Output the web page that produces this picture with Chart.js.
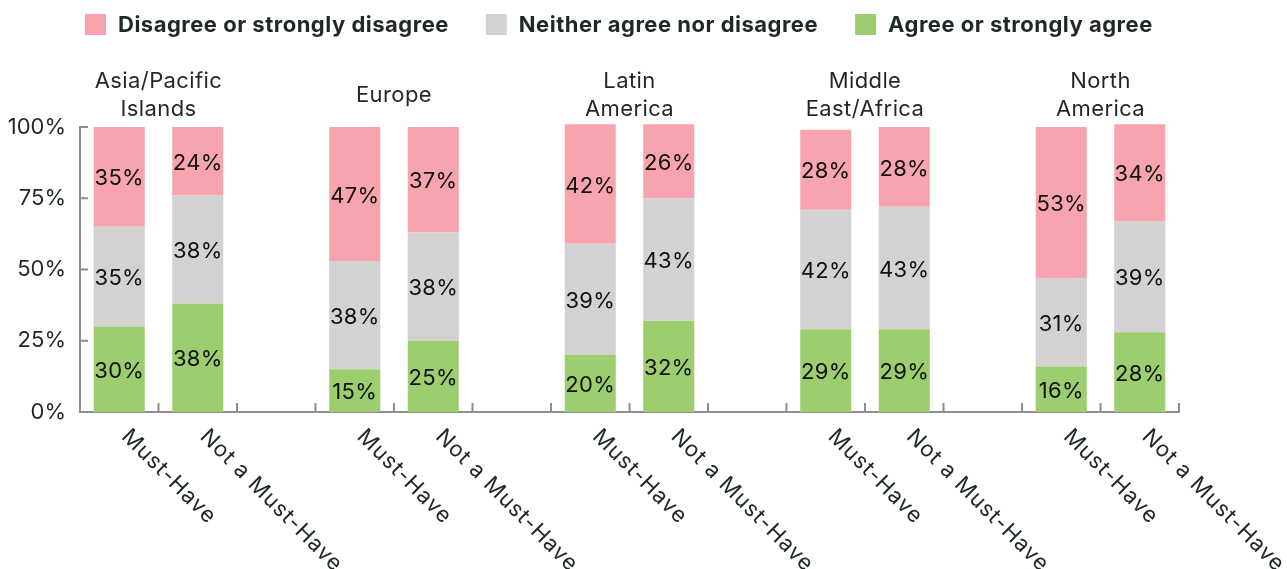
<!DOCTYPE html>
<html lang="en">
<head>
    <meta charset="UTF-8">
    <title>Must-Have by Region</title>
    <script src="https://cdn.jsdelivr.net/npm/chart.js"></script>
    <style>
        body { margin: 0; background: #fff; }
        #wrap { width: 1287px; height: 569px; }
    </style>
</head>
<body>
    <div id="wrap"><canvas id="myChart" width="1287" height="569"></canvas></div>

    <script>
        // Regions, two bars each, with an empty slot between groups
        const regions = [['Asia/Pacific', 'Islands'], ['Europe'], ['Latin', 'America'], ['Middle', 'East/Africa'], ['North', 'America']];
        const categories = ['Must-Have', 'Not a Must-Have', '', 'Must-Have', 'Not a Must-Have', '', 'Must-Have', 'Not a Must-Have', '',
                            'Must-Have', 'Not a Must-Have', '', 'Must-Have', 'Not a Must-Have'];

        const agree    = [30, 38, null, 15, 25, null, 20, 32, null, 29, 29, null, 16, 28];
        const neither  = [35, 38, null, 38, 38, null, 39, 43, null, 42, 43, null, 31, 39];
        const disagree = [35, 24, null, 47, 37, null, 42, 26, null, 28, 28, null, 53, 34];

        const yTicks = [0, 25, 50, 75, 100];

        const PINK = '#f7a4ae';
        const GREY = '#d3d2d0';
        const GREEN = '#9ccd6f';
        const AXIS = '#8e8e8e';
        const INK = '#1f2828';
        const FONT = 'Inter, "Noto Sans", sans-serif';

        // legend drawn at the top in the same order as the stack, top segment first
        const legendPlugin = {
            id: 'topLegend',
            afterDraw(chart) {
                const ctx = chart.ctx;
                const items = chart.data.datasets.slice().reverse();
                ctx.save();
                ctx.font = 'bold 22px ' + FONT;
                ctx.letterSpacing = '0.5px';
                ctx.textBaseline = 'middle';
                ctx.textAlign = 'left';
                let x = 85;
                items.forEach(ds => {
                    ctx.fillStyle = ds.backgroundColor;
                    ctx.fillRect(x, 14, 21, 21);
                    ctx.fillStyle = INK;
                    ctx.fillText(ds.label, x + 33, 25);
                    x += 33 + ctx.measureText(ds.label).width + 37;
                });
                ctx.restore();
            }
        };

        // region names centred over each pair of bars
        const regionPlugin = {
            id: 'regionNames',
            afterDraw(chart) {
                const ctx = chart.ctx;
                const xs = chart.scales.x;
                ctx.save();
                ctx.font = '22px ' + FONT;
                ctx.letterSpacing = '0.4px';
                ctx.fillStyle = INK;
                ctx.textAlign = 'center';
                ctx.textBaseline = 'alphabetic';
                regions.forEach((lines, g) => {
                    const cx = (xs.getPixelForValue(g * 3) + xs.getPixelForValue(g * 3 + 1)) / 2;
                    if (lines.length === 1) {
                        ctx.fillText(lines[0], cx, 102);
                    } else {
                        ctx.fillText(lines[0], cx, 88);
                        ctx.fillText(lines[1], cx, 116);
                    }
                });
                ctx.restore();
            }
        };

        // short tick marks pointing into the plot, plus slanted category names
        const axisPlugin = {
            id: 'axisMarks',
            afterDraw(chart) {
                const ctx = chart.ctx;
                const xs = chart.scales.x;
                const ys = chart.scales.y;
                const area = chart.chartArea;
                ctx.save();
                ctx.strokeStyle = AXIS;
                ctx.lineWidth = 2;
                ctx.beginPath();
                yTicks.forEach(v => {
                    const y = ys.getPixelForValue(v);
                    ctx.moveTo(area.left, y);
                    ctx.lineTo(area.left + 8, y);
                });
                const step = xs.getPixelForValue(1) - xs.getPixelForValue(0);
                for (let i = 1; i <= categories.length; i++) {
                    const x = xs.getPixelForValue(i) - step / 2;
                    ctx.moveTo(x, area.bottom);
                    ctx.lineTo(x, area.bottom - 9);
                }
                ctx.stroke();

                ctx.font = '22px ' + FONT;
                ctx.letterSpacing = '1px';
                ctx.fillStyle = INK;
                ctx.textAlign = 'left';
                ctx.textBaseline = 'middle';
                categories.forEach((label, i) => {
                    if (!label) return;
                    ctx.save();
                    ctx.translate(xs.getPixelForValue(i) + 6, area.bottom + 21);
                    ctx.rotate(Math.PI / 4);
                    ctx.fillText(label, 0, 0);
                    ctx.restore();
                });
                ctx.restore();
            }
        };

        // percentage inside each segment
        const valuePlugin = {
            id: 'segmentValues',
            afterDatasetsDraw(chart) {
                const ctx = chart.ctx;
                ctx.save();
                ctx.font = '22px ' + FONT;
                ctx.letterSpacing = '0.3px';
                ctx.fillStyle = '#111';
                ctx.textAlign = 'center';
                ctx.textBaseline = 'middle';
                chart.data.datasets.forEach((ds, d) => {
                    chart.getDatasetMeta(d).data.forEach((bar, i) => {
                        const v = ds.data[i];
                        if (v == null) return;
                        ctx.fillText(v + '%', bar.x, (bar.y + bar.base) / 2 + 2);
                    });
                });
                ctx.restore();
            }
        };

        const config = {
            type: 'bar',
            data: {
                labels: categories,
                datasets: [{
                    label: 'Agree or strongly agree',
                    backgroundColor: GREEN,
                    data: agree
                }, {
                    label: 'Neither agree nor disagree',
                    backgroundColor: GREY,
                    data: neither
                }, {
                    label: 'Disagree or strongly disagree',
                    backgroundColor: PINK,
                    data: disagree
                }]
            },
            options: {
                responsive: false,
                animation: false,
                layout: { padding: { top: 127, right: 108, bottom: 157, left: 0 } },
                datasets: {
                    bar: { barPercentage: 0.65, categoryPercentage: 1, borderWidth: 0, clip: false }
                },
                plugins: {
                    legend: { display: false },
                    tooltip: { enabled: false }
                },
                scales: {
                    x: {
                        stacked: true,
                        grid: { display: false, drawTicks: false },
                        border: { display: true, color: AXIS, width: 2 },
                        ticks: { display: false },
                        afterFit(scale) { scale.height = 0; }
                    },
                    y: {
                        stacked: true,
                        min: 0,
                        max: 100,
                        grid: { display: false, drawTicks: false },
                        border: { display: true, color: AXIS, width: 2 },
                        afterBuildTicks(scale) { scale.ticks = yTicks.map(v => ({ value: v })); },
                        ticks: {
                            padding: 14,
                            color: INK,
                            font: { family: FONT, size: 22 },
                            callback: v => v + '%'
                        },
                        afterFit(scale) { scale.width = 80; }
                    }
                }
            },
            plugins: [valuePlugin, axisPlugin, regionPlugin, legendPlugin]
        };

        var myChart = new Chart(document.getElementById('myChart'), config);
    </script>
</body>
</html>
